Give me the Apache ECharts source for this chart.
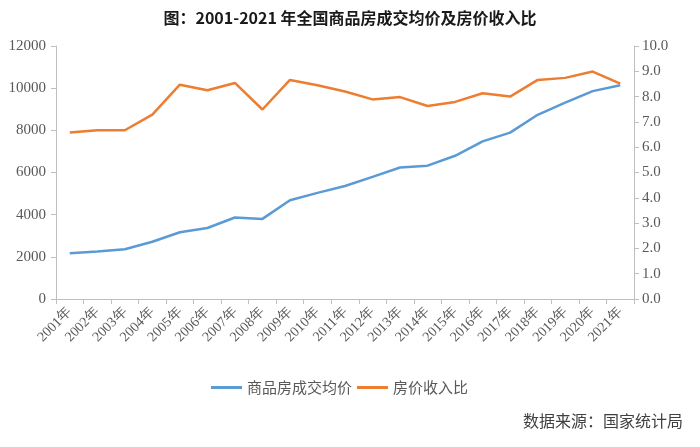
<!DOCTYPE html>
<html><head><meta charset="utf-8">
<script src="https://cdn.jsdelivr.net/npm/echarts@6/dist/echarts.min.js"></script>
<style>html,body{margin:0;padding:0;background:#fff}#c{width:700px;height:447px}</style>
</head><body><div id="c"></div>
<script>
const categories = ['2001年','2002年','2003年','2004年','2005年','2006年','2007年','2008年','2009年','2010年','2011年','2012年','2013年','2014年','2015年','2016年','2017年','2018年','2019年','2020年','2021年'];
const avgPrice = [2170,2250,2359,2714,3168,3367,3864,3800,4681,5032,5357,5791,6237,6324,6793,7476,7892,8737,9310,9860,10139];
const priceIncomeRatio = [6.58,6.67,6.67,7.29,8.47,8.25,8.54,7.49,8.66,8.45,8.2,7.89,7.98,7.63,7.79,8.13,8.0,8.66,8.74,8.99,8.51];
const seriesNames = ['商品房成交均价','房价收入比'];
const titleText = '图：2001-2021 年全国商品房成交均价及房价收入比';
const sourceText = '数据来源：国家统计局';

const numFont = 'Liberation Serif';
const cjkFont = 'Noto Sans CJK SC';
const axisColor = '#bfbfbf';
const labelColor = '#595959';

const chart = echarts.init(document.getElementById('c'), null, {renderer:'canvas'});
chart.setOption({
  animation: false,
  title: {
    text: titleText, left: 'center', top: 5,
    textStyle: {fontFamily: cjkFont, fontSize: 16, fontWeight: 'bold', color: '#1a1a1a'}
  },
  graphic: [{
    type: 'text', right: 17, top: 413,
    style: {text: sourceText, font: '16px "Noto Sans CJK SC", sans-serif', fill: '#404040'}
  }],
  legend: {
    data: seriesNames, left: 206, top: 375, itemWidth: 31, itemHeight: 3, itemGap: 5,
    icon: 'rect',
    textStyle: {fontFamily: cjkFont, fontSize: 15, color: labelColor}
  },
  grid: {left: 56, right: 66, top: 46, bottom: 148, containLabel: false},
  xAxis: {
    type: 'category', data: categories, boundaryGap: true,
    axisLine: {lineStyle: {color: axisColor, width: 1}},
    axisTick: {show: true, alignWithLabel: false, length: 5, lineStyle: {color: axisColor}},
    axisLabel: {rotate: 45, interval: 0, margin: 11, color: labelColor, fontFamily: numFont, fontSize: 14}
  },
  yAxis: [{
    type: 'value', min: 0, max: 12000, interval: 2000, position: 'left',
    axisLine: {show: true, lineStyle: {color: axisColor}},
    axisTick: {show: true, length: 5, lineStyle: {color: axisColor}},
    splitLine: {show: false},
    axisLabel: {color: labelColor, fontFamily: numFont, fontSize: 15, margin: 10,
      formatter: v => String(v)}
  }, {
    type: 'value', min: 0, max: 10, interval: 1, position: 'right',
    axisLine: {show: true, lineStyle: {color: axisColor}},
    axisTick: {show: true, length: 5, lineStyle: {color: axisColor}},
    splitLine: {show: false},
    axisLabel: {color: labelColor, fontFamily: numFont, fontSize: 15, margin: 8,
      formatter: v => v.toFixed(1)}
  }],
  series: [{
    name: seriesNames[0], type: 'line', yAxisIndex: 0, data: avgPrice,
    symbol: 'none', lineStyle: {color: '#5b9bd5', width: 2.5}, itemStyle: {color: '#5b9bd5'}
  }, {
    name: seriesNames[1], type: 'line', yAxisIndex: 1, data: priceIncomeRatio,
    symbol: 'none', lineStyle: {color: '#ed7d31', width: 2.5}, itemStyle: {color: '#ed7d31'}
  }]
});
</script></body></html>
